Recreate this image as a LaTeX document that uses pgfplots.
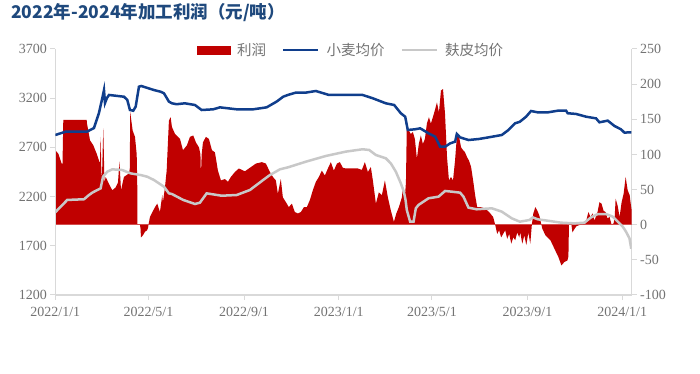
\documentclass[border=0pt]{standalone}
\usepackage{fontspec}
\setmainfont{Liberation Serif}
\newfontfamily\cjk{Noto Sans CJK SC}
\usepackage{pgfplots}
\pgfplotsset{compat=1.18}
\definecolor{profitred}{RGB}{192,0,0}
\definecolor{wheatblue}{RGB}{16,62,140}
\definecolor{brangray}{RGB}{200,200,200}
\definecolor{axgray}{RGB}{217,217,217}
\definecolor{labgray}{RGB}{115,115,115}
\definecolor{titleblue}{RGB}{31,73,125}
\pgfplotsset{
  common/.style={
    scale only axis, width=576.4pt, height=246pt,
    at={(55.3pt,79pt)}, anchor=south west,
    xmin=0, xmax=742.2,
    tick align=outside, major tick length=5pt,
    every tick/.style={axgray, line width=1pt},
    axis line style={axgray, line width=1.2pt},
    tick label style={font=\fontsize{14}{14}\selectfont, text=labgray},
  }
}
\begin{document}
\begin{tikzpicture}[x=1pt,y=1pt]
\useasboundingbox (0,0) rectangle (700,374);
\node[anchor=west, inner sep=0pt, text=titleblue, font=\cjk\bfseries\fontsize{17.5}{17.5}\selectfont] at (11,361) {2022年-2024年加工利润（元/吨）};

\begin{axis}[common, ymin=-100, ymax=250, axis y line*=right, axis x line=none, xtick=\empty,
  ytick={-100,-50,0,50,100,150,200,250}, yticklabels={-100,-50,0,50,100,150,200,250}]
\addplot[fill=profitred, draw=none] coordinates {
(0,106) (3.9,101) (8.2,87) (9.3,87) (10.3,149) (40.4,149) (40.8,144) (44.7,120) (48.9,113) (53.3,101) (57.5,87) (58.4,125) (59.3,75) (60.1,68) (61.8,137) (63.3,60) (64.9,68) (69.1,58) (73.4,49) (77.7,53) (80.7,60) (82.6,90) (84.6,49) (88.4,68) (94.9,73) (95.9,80) (96.5,160) (99.6,134) (102.6,125) (104.8,100) (105.5,60) (105.8,0) (109,0) (109.7,-5) (110.3,-18) (112.9,-15) (115.5,-10) (118.1,-8) (119.3,-5) (120,0) (121.9,11) (128.3,25) (131.3,30) (134.7,18) (137.7,42) (138.6,32) (141.2,53) (143.4,77) (146.3,148) (148.5,153) (150.2,139) (154.2,129) (160.6,122) (164.4,106) (169.5,113) (173.4,125) (177.6,127) (181.1,117) (185,110) (186.9,100) (187.5,70) (188.5,100) (190.1,117) (193.9,125) (197.8,122) (201.7,106) (205.5,103) (209.4,77) (213.3,63) (218.4,65) (222.3,61) (226.1,68) (231.3,75) (236.4,80) (244.1,76) (250.6,81) (258.3,87) (266,89) (271.2,87) (276.3,75) (280.2,68) (284,63) (286.6,44) (290.4,65) (293,39) (298.1,30) (300.7,25) (304.6,30) (308.4,18) (312.3,16) (316.2,18) (320.1,25) (323.9,25) (327.8,35) (331.6,49) (335.5,61) (339.4,68) (343.2,77) (347.1,70) (351,80) (354.8,89) (358.7,77) (362.6,87) (366.4,89) (370.3,81) (374.1,80) (381.9,80) (389.6,80) (394.7,78) (398.6,89) (402.5,75) (406.3,82) (408.9,63) (412.8,30) (416.6,46) (420.5,42) (424.4,63) (428.2,39) (432.1,20) (436,4) (439.1,16) (442.4,25) (446.3,39) (447.6,53) (450.1,39) (451.5,60) (452.6,139) (455.2,134) (457.8,129) (460.4,132) (463,122) (465.6,94) (468.1,115) (470.7,127) (473.3,115) (475.9,122) (478.5,144) (481.1,153) (483.6,144) (486.2,153) (488.8,163) (491.4,174) (494,160) (496.6,191) (499.2,193) (501.8,158) (504.4,96) (506.9,63) (509.5,68) (512.1,63) (514.7,91) (517.3,129) (519.9,125) (522.5,110) (525.1,106) (527.6,103) (530.2,96) (532.8,91) (535.4,82) (538,63) (540.6,42) (543.2,25) (548.3,25) (553.5,23) (558.6,18) (563.8,11) (566.4,0) (569,-13) (571.5,-8) (574.1,-18) (576.7,-13) (579.3,-8) (581.9,-20) (584.5,-13) (587.1,-27) (589.7,-18) (592.2,-22) (594.8,-11) (597.4,-18) (598.7,-11) (601.3,-27) (603.9,-15) (606.5,-29) (609.1,-11) (611.6,-27) (613.6,0) (615.5,16) (618.1,25) (620.7,20) (623.3,13) (625.9,0) (627.2,-6) (631.1,-15) (637.5,-22) (643.9,-37) (647.8,-46) (651.7,-58) (655.5,-53) (659.4,-51) (660.7,-45) (661.4,0) (663.3,4) (664.6,0) (665.9,-11) (668.5,-6) (671.1,-2) (676.2,0) (682.7,2) (686.5,18) (689.1,11) (691.7,16) (694.3,6) (698.2,18) (700.7,32) (703.3,30) (705.9,20) (708.5,18) (711.1,9) (713.7,11) (716.3,0) (718.9,2) (720.2,9) (721.5,37) (724.1,27) (726.6,11) (729.2,32) (731.8,44) (734.4,68) (737,49) (739.6,42) (740.9,30) (742.2,20)
} \closedcycle;
\addplot[profitred!70, line width=0.6pt] coordinates {(0,0) (742.2,0)};
\end{axis}

\begin{axis}[common, ymin=1200, ymax=3700, axis y line*=left, axis x line*=bottom,
  ytick={1200,1700,2200,2700,3200,3700}, yticklabels={1200,1700,2200,2700,3200,3700},
  xtick={0,120,243,365,485,608,730},
  xticklabels={2022/1/1,2022/5/1,2022/9/1,2023/1/1,2023/5/1,2023/9/1,2024/1/1},
  xticklabel style={yshift=-4pt},
  legend image code/.code={\draw[#1] (0pt,0pt) -- (35pt,0pt);},
  legend style={at={(0.513,0.996)}, anchor=center, draw=none, fill=none,
    legend columns=3, font=\cjk\fontsize{14.5}{14.5}\selectfont, text=labgray,
    /tikz/every odd column/.append style={column sep=5pt},
    /tikz/every even column/.append style={column sep=14pt}},
  legend cell align=left]
\addlegendimage{legend image code/.code={\fill[profitred] (0pt,-4pt) rectangle (33pt,4pt);}}
\addlegendentry{利润}
\addplot[wheatblue, line width=2.5pt] coordinates {
(0,2826) (13.4,2860) (40.8,2860) (49.8,2897) (56.2,3050) (60.5,3200) (62.7,3283) (64,3151) (66.5,3202) (69.1,3233) (88.4,3215) (92.7,3182) (96.1,3080) (100.4,3073) (103.5,3114) (107.7,3317) (110.7,3324) (127,3283) (135.6,3266) (139.9,3250) (146.3,3165) (150.2,3148) (156.2,3139) (166.9,3148) (179.8,3131) (188.4,3080) (203.3,3087) (212,3107) (233.5,3087) (254.8,3087) (272.1,3107) (284.9,3165) (293.4,3215) (299.5,3233) (309.8,3257) (322.7,3257) (335.5,3273) (352.3,3233) (363.4,3233) (395.6,3233) (408.5,3200) (425.6,3148) (436.3,3131) (444.9,3047) (450.5,3012) (453.9,2877) (463.3,2884) (469.8,2894) (480.6,2843) (489.1,2809) (495.5,2707) (501.9,2707) (508.4,2741) (514.8,2758) (517,2836) (521.2,2802) (532,2775) (544.9,2785) (557.8,2802) (574.9,2826) (583.5,2877) (592,2945) (598.1,2960) (606.2,3012) (612.6,3070) (621.2,3056) (634.1,3056) (647,3073) (657.7,3073) (659.8,3047) (670.5,3040) (683.4,3012) (696.3,2995) (700.6,2955) (711.3,2972) (719.9,2918) (728.4,2884) (732.8,2850) (739.2,2853) (741.8,2853)
};
\addlegendentry{小麦均价}
\addplot[brangray, line width=2.5pt] coordinates {
(0,2040) (4.8,2081) (11.2,2132) (15.4,2166) (36.9,2173) (43.4,2216) (47.6,2240) (54.1,2267) (58.4,2284) (61.4,2402) (66.9,2453) (73.4,2477) (86.2,2470) (97,2436) (109.9,2419) (118.4,2402) (127,2369) (139.9,2301) (146.3,2233) (150.2,2226) (164.7,2166) (179.8,2125) (186.2,2138) (194.9,2233) (214.2,2209) (233.5,2216) (250.6,2267) (267.7,2369) (276.3,2419) (289.2,2477) (299.5,2497) (322.7,2555) (348.4,2613) (374.1,2657) (395.6,2681) (404.1,2674) (412.7,2623) (425.6,2589) (432,2538) (438.5,2453) (444.9,2335) (448.8,2250) (451,2166) (452.6,2064) (456.9,1945) (461.3,1945) (464.2,2081) (467.7,2115) (472,2138) (480.6,2183) (493.4,2199) (501.9,2257) (510.6,2250) (521.2,2240) (525.6,2199) (532,2088) (542.7,2071) (562,2081) (574.9,2047) (587.8,1979) (598.1,1945) (610.5,1962) (614.8,1989) (621.2,1969) (634.1,1955) (651.2,1935) (668.5,1928) (681.3,1935) (689.8,1989) (698.5,2023) (709.1,2023) (717.8,1996) (724.2,1945) (730.7,1894) (734.9,1843) (739.3,1776) (741.6,1670)
};
\addlegendentry{麸皮均价}
\end{axis}
\end{tikzpicture}
\end{document}
